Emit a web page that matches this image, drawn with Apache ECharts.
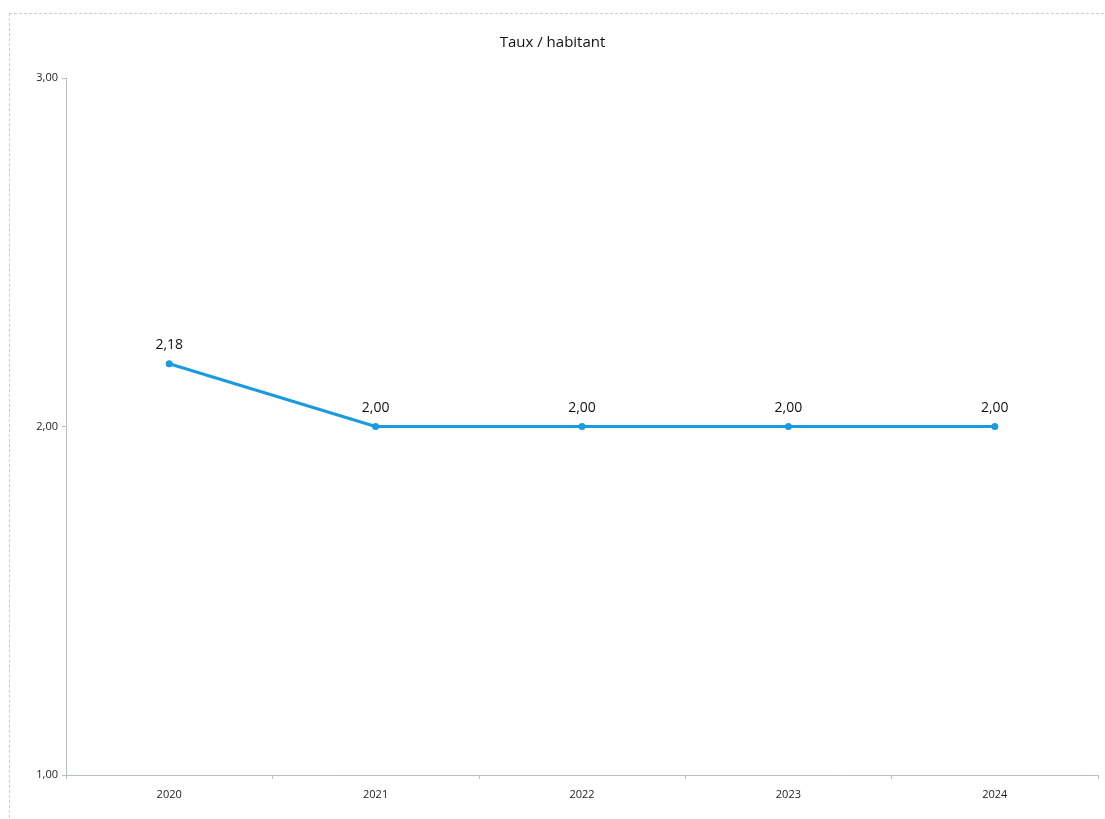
<!DOCTYPE html>
<html>
<head>
<meta charset="utf-8">
<script src="https://cdn.jsdelivr.net/npm/echarts@6/dist/echarts.min.js"></script>
<style>
html,body{margin:0;padding:0;background:#fff;}
#frame{position:absolute;left:9px;top:13px;width:1110px;height:820px;border:1px dashed #c8ccd4;box-sizing:border-box;}
#chart{position:absolute;left:0;top:0;width:1105px;height:819px;}
</style>
</head>
<body>
<div id="frame"></div>
<div id="chart"></div>
<script>
const title = 'Taux / habitant';
const categories = ['2020', '2021', '2022', '2023', '2024'];
const values = [2.18, 2.00, 2.00, 2.00, 2.00];
const yTicks = [1, 2, 3];

const fmt = v => v.toFixed(2).replace('.', ',');
const chart = echarts.init(document.getElementById('chart'));
chart.setOption({
  animation: false,
  backgroundColor: 'transparent',
  title: {
    text: title, left: 'center', top: 30,
    textStyle: {fontFamily: 'Open Sans', fontSize: 15, fontWeight: 'normal', color: '#111'}
  },
  grid: {left: 66, right: 7, top: 78, bottom: 44},
  xAxis: {
    type: 'category', data: categories, boundaryGap: true,
    axisLine: {lineStyle: {color: '#b8bec8', width: 1}},
    axisTick: {show: true, length: 4, lineStyle: {color: '#b8bec8'}},
    axisLabel: {fontFamily: 'Open Sans', fontSize: 11, color: '#222', margin: 14}
  },
  yAxis: {
    type: 'value', min: yTicks[0], max: yTicks[yTicks.length - 1], interval: 1,
    axisLine: {show: true, lineStyle: {color: '#b8bec8', width: 1}},
    axisTick: {show: true, length: 4, lineStyle: {color: '#b8bec8'}},
    splitLine: {show: false},
    axisLabel: {fontFamily: 'Open Sans', fontSize: 11, color: '#222', margin: 8, formatter: fmt}
  },
  series: [{
    type: 'line', data: values,
    symbol: 'circle', symbolSize: 7,
    lineStyle: {color: '#1a9be0', width: 3},
    itemStyle: {color: '#1a9be0'},
    label: {
      show: true, position: 'top', distance: 8,
      fontFamily: 'Open Sans', fontSize: 14, color: '#111',
      formatter: p => fmt(p.value)
    }
  }]
});
</script>
</body>
</html>
